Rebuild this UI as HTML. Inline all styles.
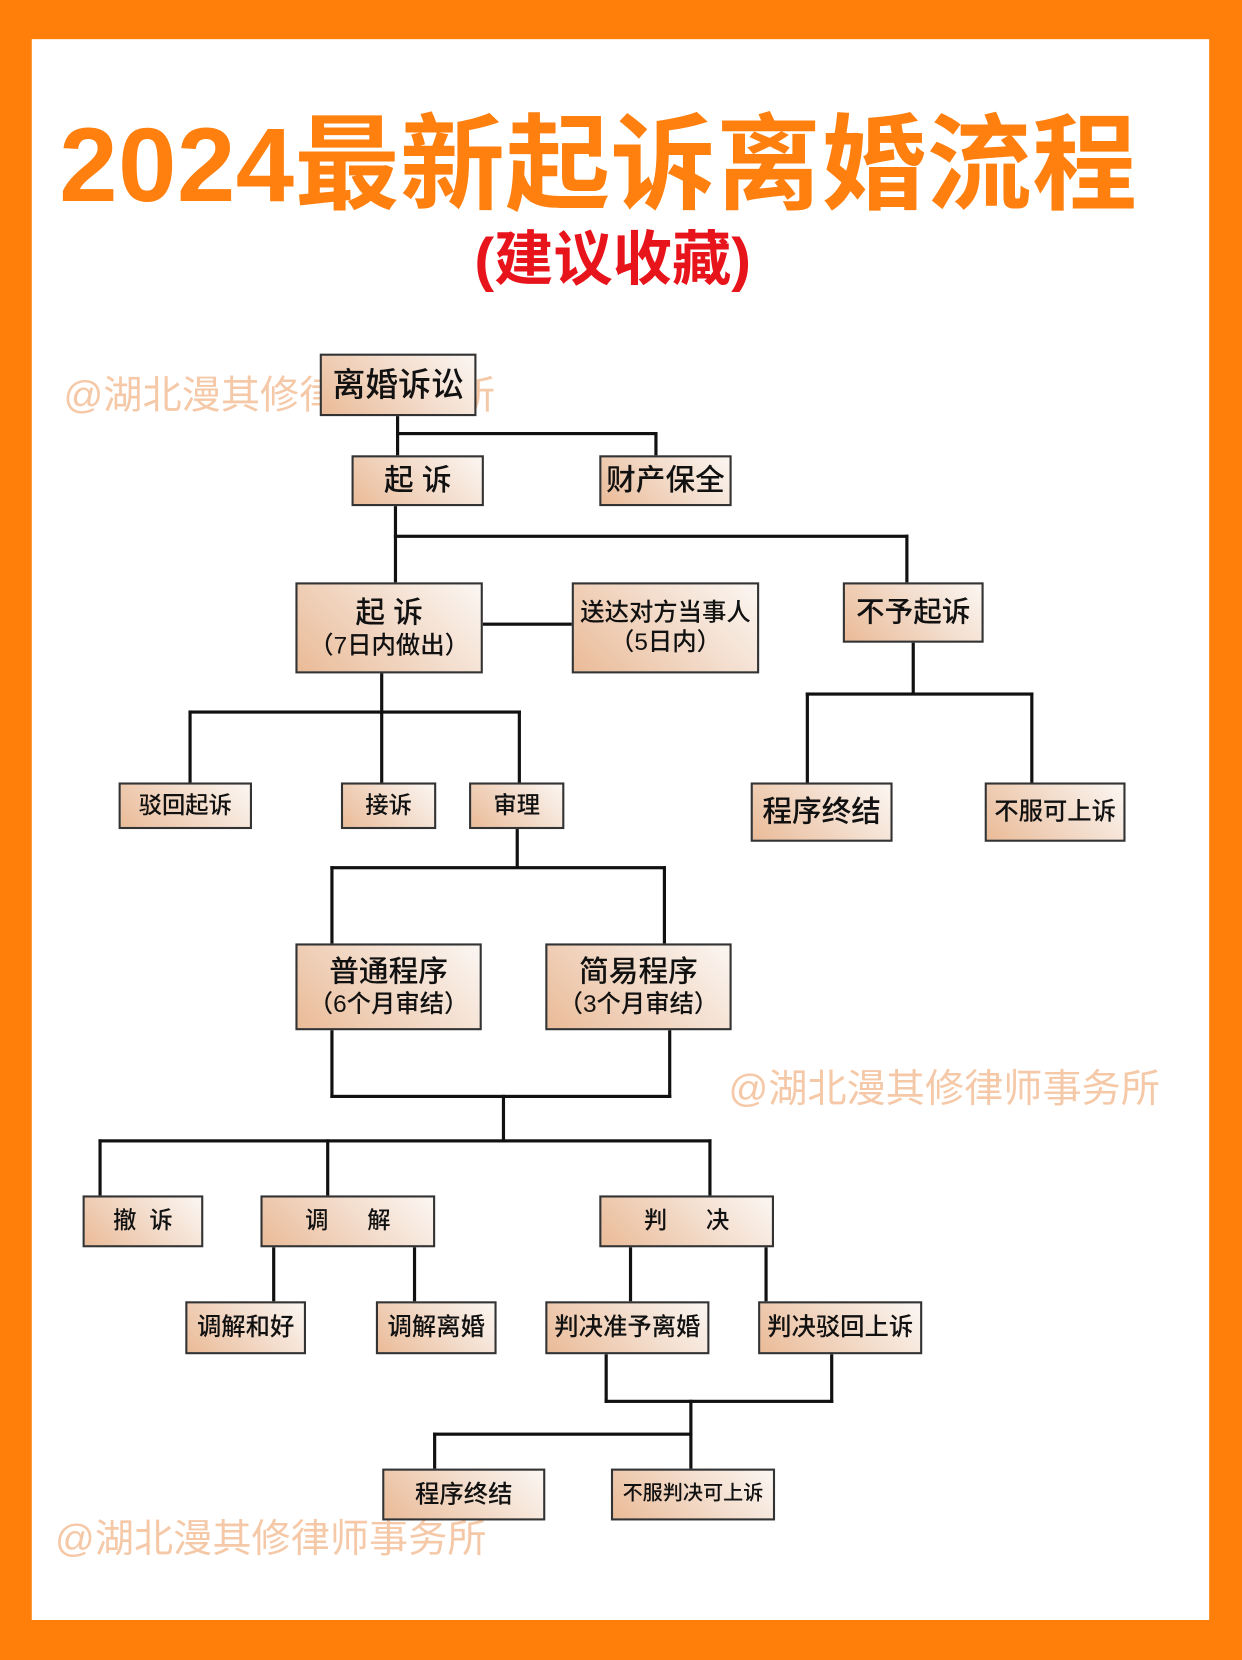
<!DOCTYPE html>
<html><head><meta charset="utf-8"><style>
html,body{margin:0;padding:0;}
body{width:1242px;height:1660px;overflow:hidden;background:#ff7f0a;font-family:"Liberation Sans","Noto Sans CJK SC",sans-serif;}
#w{position:absolute;left:0;top:0;width:1173px;height:1568px;transform:scale(1.05882);transform-origin:0 0;}
.page{position:absolute;left:30px;top:37px;width:1112px;height:1493px;background:#fff;}
.t{position:absolute;white-space:nowrap;}
.wm{position:absolute;color:#f5c9a8;font-size:37px;white-space:nowrap;}
.b{position:absolute;box-sizing:border-box;border:2px solid #333;background:linear-gradient(45deg,#eabb98 0%,#f3dccb 55%,#fbf6f2 100%);display:flex;flex-direction:column;align-items:center;justify-content:center;color:#111;font-weight:500;line-height:1.2;white-space:nowrap;}
.l{position:absolute;background:#111;}
</style></head><body><div id="w">
<div class="page"></div>
<div class="t" style="left:56px;top:75px;font-size:99px;font-weight:bold;color:#ff7f0f;letter-spacing:0.5px;">2024最新起诉离婚流程</div>
<div class="t" style="left:448px;top:200px;font-size:56px;font-weight:bold;color:#e8141c;">(建议收藏)</div>
<div class="wm" style="left:60px;top:343px;">@湖北漫其修律师事务所</div>
<div class="wm" style="left:688px;top:998px;">@湖北漫其修律师事务所</div>
<div class="wm" style="left:52px;top:1423px;">@湖北漫其修律师事务所</div>

<!-- lines -->
<div class="l" style="left:374px;top:393px;width:3px;height:37px"></div>
<div class="l" style="left:374px;top:408px;width:247px;height:3px"></div>
<div class="l" style="left:618px;top:408px;width:3px;height:22px"></div>
<div class="l" style="left:372px;top:478px;width:3px;height:72px"></div>
<div class="l" style="left:372px;top:505px;width:486px;height:3px"></div>
<div class="l" style="left:855px;top:505px;width:3px;height:45px"></div>
<div class="l" style="left:456px;top:588px;width:84px;height:3px"></div>
<div class="l" style="left:861px;top:607px;width:3px;height:49px"></div>
<div class="l" style="left:761px;top:654px;width:215px;height:3px"></div>
<div class="l" style="left:761px;top:654px;width:3px;height:85px"></div>
<div class="l" style="left:973px;top:654px;width:3px;height:85px"></div>
<div class="l" style="left:359px;top:636px;width:3px;height:103px"></div>
<div class="l" style="left:178px;top:671px;width:314px;height:3px"></div>
<div class="l" style="left:178px;top:671px;width:3px;height:68px"></div>
<div class="l" style="left:489px;top:671px;width:3px;height:68px"></div>
<div class="l" style="left:487px;top:783px;width:3px;height:36px"></div>
<div class="l" style="left:312px;top:818px;width:317px;height:3px"></div>
<div class="l" style="left:312px;top:818px;width:3px;height:73px"></div>
<div class="l" style="left:626px;top:818px;width:3px;height:73px"></div>
<div class="l" style="left:312px;top:973px;width:3px;height:64px"></div>
<div class="l" style="left:631px;top:973px;width:3px;height:64px"></div>
<div class="l" style="left:312px;top:1034px;width:322px;height:3px"></div>
<div class="l" style="left:474px;top:1034px;width:3px;height:45px"></div>
<div class="l" style="left:93px;top:1076px;width:579px;height:3px"></div>
<div class="l" style="left:93px;top:1076px;width:3px;height:53px"></div>
<div class="l" style="left:308px;top:1076px;width:3px;height:53px"></div>
<div class="l" style="left:669px;top:1076px;width:3px;height:53px"></div>
<div class="l" style="left:257px;top:1178px;width:3px;height:51px"></div>
<div class="l" style="left:390px;top:1178px;width:3px;height:51px"></div>
<div class="l" style="left:594px;top:1178px;width:3px;height:51px"></div>
<div class="l" style="left:722px;top:1178px;width:3px;height:51px"></div>
<div class="l" style="left:571px;top:1279px;width:3px;height:46px"></div>
<div class="l" style="left:784px;top:1279px;width:3px;height:46px"></div>
<div class="l" style="left:571px;top:1322px;width:216px;height:3px"></div>
<div class="l" style="left:651px;top:1322px;width:3px;height:65px"></div>
<div class="l" style="left:409px;top:1353px;width:245px;height:3px"></div>
<div class="l" style="left:409px;top:1353px;width:3px;height:34px"></div>

<!-- boxes -->
<div class="b" style="left:302px;top:334px;width:148px;height:59px;font-size:31px;">离婚诉讼</div>
<div class="b" style="left:332px;top:430px;width:125px;height:48px;font-size:28px;">起 诉</div>
<div class="b" style="left:566px;top:430px;width:125px;height:48px;font-size:28px;">财产保全</div>
<div class="b" style="left:279px;top:550px;width:177px;height:86px;font-size:28px;"><div>起 诉</div><div style="font-size:23px">（7日内做出）</div></div>
<div class="b" style="left:540px;top:550px;width:177px;height:86px;font-size:23px;"><div>送达对方当事人</div><div>（5日内）</div></div>
<div class="b" style="left:796px;top:550px;width:133px;height:57px;font-size:27px;">不予起诉</div>
<div class="b" style="left:112px;top:739px;width:126px;height:44px;font-size:22px;">驳回起诉</div>
<div class="b" style="left:322px;top:739px;width:90px;height:44px;font-size:22px;">接诉</div>
<div class="b" style="left:443px;top:739px;width:90px;height:44px;font-size:22px;">审理</div>
<div class="b" style="left:709px;top:739px;width:134px;height:56px;font-size:28px;">程序终结</div>
<div class="b" style="left:930px;top:739px;width:133px;height:56px;font-size:23px;">不服可上诉</div>
<div class="b" style="left:279px;top:891px;width:176px;height:82px;font-size:28px;"><div>普通程序</div><div style="font-size:23px">（6个月审结）</div></div>
<div class="b" style="left:515px;top:891px;width:176px;height:82px;font-size:28px;"><div>简易程序</div><div style="font-size:23px">（3个月审结）</div></div>
<div class="b" style="left:78px;top:1129px;width:114px;height:49px;font-size:22px;">撤&nbsp;&nbsp;诉</div>
<div class="b" style="left:246px;top:1129px;width:165px;height:49px;font-size:22px;">调&nbsp;&nbsp;&nbsp;&nbsp;&nbsp;&nbsp;解</div>
<div class="b" style="left:566px;top:1129px;width:165px;height:49px;font-size:22px;">判&nbsp;&nbsp;&nbsp;&nbsp;&nbsp;&nbsp;决</div>
<div class="b" style="left:175px;top:1229px;width:114px;height:50px;font-size:23px;">调解和好</div>
<div class="b" style="left:355px;top:1229px;width:114px;height:50px;font-size:23px;">调解离婚</div>
<div class="b" style="left:515px;top:1229px;width:155px;height:50px;font-size:23px;">判决准予离婚</div>
<div class="b" style="left:716px;top:1229px;width:155px;height:50px;font-size:23px;">判决驳回上诉</div>
<div class="b" style="left:361px;top:1387px;width:154px;height:49px;font-size:23px;">程序终结</div>
<div class="b" style="left:577px;top:1387px;width:155px;height:49px;font-size:19px;">不服判决可上诉</div>
</div></body></html>
